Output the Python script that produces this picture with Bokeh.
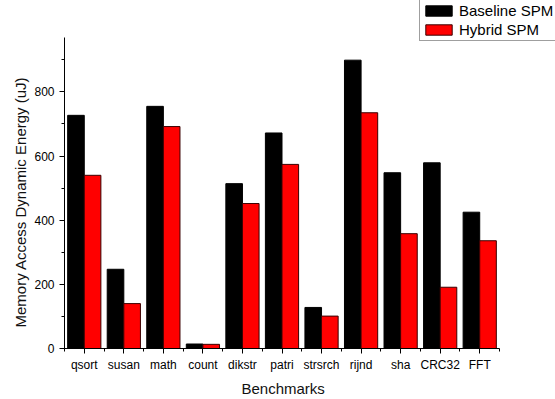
from bokeh.plotting import figure
from bokeh.models import Range1d, FixedTicker, Legend, LegendItem, Title
from bokeh.embed import file_html
from bokeh.resources import INLINE

benchmarks = ["qsort", "susan", "math", "count", "dikstr", "patri",
              "strsrch", "rijnd", "sha", "CRC32", "FFT"]
baseline_spm = [727, 247, 755, 14, 514, 672, 128, 899, 548, 579, 425]
hybrid_spm = [540, 140, 692, 13, 452, 574, 101, 735, 358, 191, 336]
y_ticks = [0, 200, 400, 600, 800]
y_max = 970

FONT = "Liberation Sans"

W, H = 555, 399
F_LEFT, F_BOTTOM = 64, 349          # frame edges (page px)
AX_RIGHT, AX_TOP = 499, 37          # where the visible axes end
n = len(benchmarks)
x_end = n * (W - F_LEFT) / (AX_RIGHT - F_LEFT)
y_end = y_max * F_BOTTOM / (F_BOTTOM - AX_TOP)

p = figure(width=W, height=H, output_backend="svg", toolbar_location=None,
           x_range=Range1d(0, x_end), y_range=Range1d(0, y_end),
           min_border_left=F_LEFT, min_border_right=0, min_border_top=0,
           min_border_bottom=H - F_BOTTOM)

centers = [i + 0.5 for i in range(n)]
bw = 0.42
r1 = p.vbar(x=[c - bw / 2 for c in centers], top=baseline_spm, width=bw,
            fill_color="black", line_color="black", line_width=1)
r2 = p.vbar(x=[c + bw / 2 for c in centers], top=hybrid_spm, width=bw,
            fill_color="#ff0000", line_color="#3a0000", line_width=1)

p.xgrid.visible = False
p.ygrid.visible = False
p.outline_line_color = None

xa = p.xaxis[0]
xa.ticker = FixedTicker(ticks=centers, minor_ticks=list(range(n + 1)))
xa.major_label_overrides = {c: name for c, name in zip(centers, benchmarks)}
xa.bounds = (0, n)

ya = p.yaxis[0]
ya.ticker = FixedTicker(ticks=y_ticks, minor_ticks=list(range(0, y_max + 1, 100)))
ya.bounds = (0, y_max)

for ax in (xa, ya):
    ax.axis_line_color = "black"
    ax.axis_line_width = 1
    ax.major_tick_line_color = "black"
    ax.minor_tick_line_color = "black"
    ax.major_tick_out = 5
    ax.major_tick_in = 0
    ax.minor_tick_out = 3
    ax.minor_tick_in = 0
    ax.major_label_text_font = FONT
    ax.major_label_text_font_size = "12px"
    ax.major_label_text_color = "black"

xa.major_label_standoff = 4
ya.major_label_standoff = 5

xt = Title(text="Benchmarks", align="left", offset=177, standoff=6,
           text_font=FONT, text_font_size="15px", text_font_style="normal",
           text_color="#111111")
p.add_layout(xt, "below")

yt = Title(text="Memory Access Dynamic Energy (uJ)", align="left", offset=21,
           standoff=6, text_font=FONT, text_font_size="15px",
           text_font_style="normal", text_color="#111111")
p.add_layout(yt, "left")

legend = Legend(items=[LegendItem(label="Baseline SPM", renderers=[r1]),
                       LegendItem(label="Hybrid SPM", renderers=[r2])],
                location=(355, 307))
legend.label_text_font = FONT
legend.label_text_font_size = "15px"
legend.label_text_color = "black"
legend.glyph_width = 33
legend.glyph_height = 13
legend.label_height = 16
legend.label_standoff = 4
legend.padding = 2
legend.spacing = 2
legend.margin = 0
legend.border_line_color = "#404040"
legend.border_line_width = 1
legend.background_fill_color = "white"
legend.background_fill_alpha = 1
p.add_layout(legend, "center")

open("out.html", "w").write(file_html(p, INLINE))
